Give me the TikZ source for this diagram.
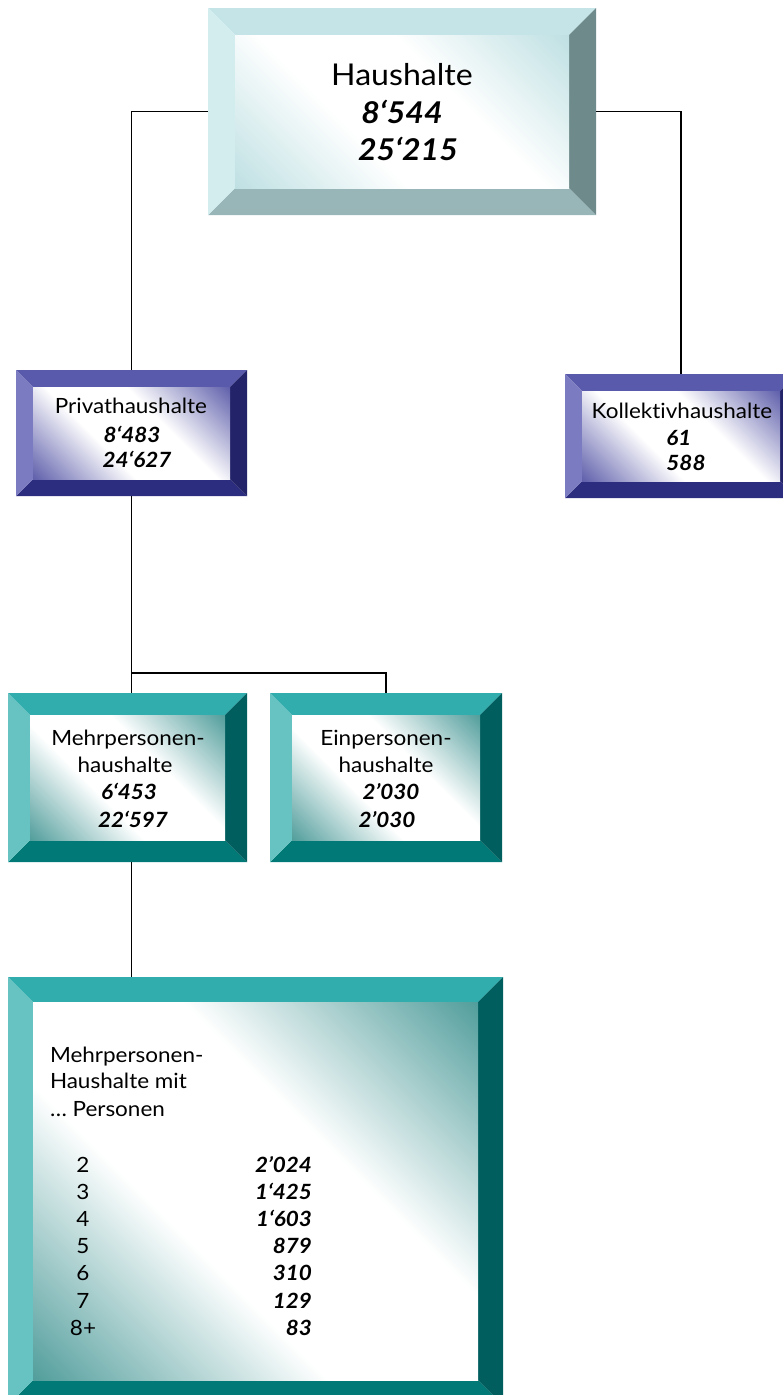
\documentclass[tikz,border=0pt]{standalone}
\usepackage{fontspec}
\setmainfont{Lato}[Ligatures={TeX,NoCommon}, FakeStretch=1.07]
\usetikzlibrary{calc}
\definecolor{cyT}{HTML}{C4E4E7}
\definecolor{cyL}{HTML}{D3EDEF}
\definecolor{cyR}{HTML}{6E8A8B}
\definecolor{cyB}{HTML}{98B5B7}
\definecolor{cyI}{HTML}{BDDFE2}
\definecolor{inT}{HTML}{5A5AAD}
\definecolor{inL}{HTML}{7B7BC1}
\definecolor{inR}{HTML}{232369}
\definecolor{inB}{HTML}{2D2D80}
\definecolor{inI}{HTML}{5C5CAA}
\definecolor{tlT}{HTML}{31ADAD}
\definecolor{tlL}{HTML}{66C3C1}
\definecolor{tlR}{HTML}{005E5E}
\definecolor{tlB}{HTML}{007977}
\definecolor{tlI}{HTML}{4E9C9A}
\pgfdeclarehorizontalshading{cyshade}{100bp}{color(0bp)=(cyI); color(14bp)=(cyI); color(40bp)=(white); color(60bp)=(white); color(86bp)=(cyI); color(100bp)=(cyI)}
\pgfdeclarehorizontalshading{inshade}{100bp}{color(0bp)=(inI); color(14bp)=(inI); color(40bp)=(white); color(60bp)=(white); color(86bp)=(inI); color(100bp)=(inI)}
\pgfdeclarehorizontalshading{tlshade}{100bp}{color(0bp)=(tlI); color(14bp)=(tlI); color(40bp)=(white); color(60bp)=(white); color(86bp)=(tlI); color(100bp)=(tlI)}
\newcommand\bevelbox[7]{%
  \node[minimum width={(#4-#2)*1pt}, minimum height={(#5-#3)*1pt}, anchor=north west] (#1) at (#2,#3) {};
  \fill[#7T] (#2,#3) -- (#4,#3) -- (#4-#6,#3+#6) -- (#2+#6,#3+#6) -- cycle;
  \fill[#7B] (#2,#5) -- (#4,#5) -- (#4-#6,#5-#6) -- (#2+#6,#5-#6) -- cycle;
  \fill[#7L] (#2,#3) -- (#2+#6,#3+#6) -- (#2+#6,#5-#6) -- (#2,#5) -- cycle;
  \fill[#7R] (#4,#3) -- (#4-#6,#3+#6) -- (#4-#6,#5-#6) -- (#4,#5) -- cycle;
  \shade[shading=#7shade, shading angle=45] (#2+#6,#3+#6) rectangle (#4-#6,#5-#6);
}
\tikzset{
  every node/.style={inner sep=0pt, outer sep=0pt},
  conn/.style={line width=1.8pt, black},
  lbl/.style={anchor=base, font=\fontsize{#1}{#1}\selectfont},
  numtxt/.style={anchor=base, font=\fontsize{#1}{#1}\selectfont\bfseries\itshape},
}
\begin{document}
\begin{tikzpicture}[x=1pt,y=-1pt]
\useasboundingbox (0,0) rectangle (783,1395);
\clip (0,0) rectangle (783,1395);
% boxes
\bevelbox{haus}{208}{8}{596}{215}{27}{cy}
\bevelbox{privat}{16}{370}{247}{496}{17}{in}
\bevelbox{koll}{565}{374}{797}{498}{17}{in}
\bevelbox{mehr}{8}{693}{247}{862}{22}{tl}
\bevelbox{ein}{270}{693}{502}{862}{22}{tl}
\bevelbox{big}{8}{977}{503}{1405}{25}{tl}
% connectors
\draw[conn] (haus.west) -| (privat.north);
\draw[conn] (haus.east) -| (koll.north);
\draw[conn] (privat.south) -- (privat.south |- mehr.north);
\coordinate (split) at (privat.south |- 0,673);
\draw[conn] (split) -| (ein.north);
\draw[conn] (privat.south |- mehr.south) -- (privat.south |- big.north);
% texts
\node[lbl=30] (h1) at (402,85) {Haushalte};
\node[numtxt=30] (h2) at (402,123) {8‘544};
\node[numtxt=30] (h3) at (408,160) {25‘215};
\node[lbl=21] (p1) at (131,413) {Privathaushalte};
\node[numtxt=21] (p2) at (132,442) {8‘483};
\node[numtxt=21] (p3) at (137,467) {24‘627};
\node[lbl=21] (k1) at (682,418) {Kollektivhaushalte};
\node[numtxt=21] (k2) at (679,445) {61};
\node[numtxt=21] (k3) at (686,470) {588};
\node[lbl=21] (m1) at (128,745) {Mehrpersonen-};
\node[lbl=21] (m2) at (125,772) {haushalte};
\node[numtxt=21] (m3) at (129,799) {6‘453};
\node[numtxt=21] (m4) at (133,827) {22‘597};
\node[lbl=21] (e1) at (386,745) {Einpersonen-};
\node[lbl=21] (e2) at (386,772) {haushalte};
\node[numtxt=21] (e3) at (391,799) {2’030};
\node[numtxt=21] (e4) at (387,827) {2’030};
\node[lbl=21, anchor=base west] (b1) at (50,1062) {Mehrpersonen-};
\node[lbl=21, anchor=base west] (b2) at (50,1088) {Haushalte mit};
\node[lbl=21, anchor=base west] (b3) at (50,1116) {… Personen};
\foreach \n/\v [count=\i from 0] in {2/2’024,3/1‘425,4/1‘603,5/879,6/310,7/129,8+/83}{
  \node[lbl=21] (r\i) at (83,1172+27.2*\i) {\n};
  \node[numtxt=21, anchor=base east] (v\i) at (312,1172+27.2*\i) {\v};
}
\end{tikzpicture}
\end{document}
